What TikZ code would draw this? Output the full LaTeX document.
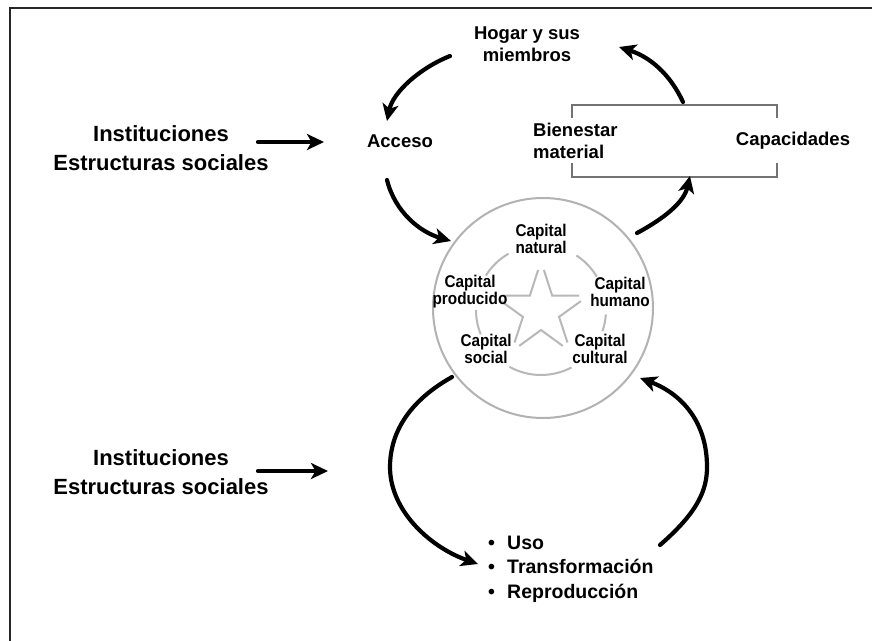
\documentclass[tikz,border=0pt]{standalone}
\usepackage{fontspec}
\setmainfont{Liberation Sans}
\newfontfamily\capfont[FakeStretch=0.9]{Liberation Sans}
\usetikzlibrary{arrows.meta,calc}
\begin{document}
\begin{tikzpicture}[x=1pt,y=-1pt,
  lbl/.style={font=\bfseries\fontsize{18.5}{22.5}\selectfont, align=center, inner sep=0pt},
  big/.style={font=\bfseries\fontsize{22}{29}\selectfont, align=center, inner sep=0pt},
  caplbl/.style={font=\capfont\bfseries\fontsize{17}{15}\selectfont, align=center, inner sep=0pt},
  listlbl/.style={font=\bfseries\fontsize{19.5}{24.5}\selectfont, align=left, inner sep=0pt},
  flow/.style={line width=4.2pt, line cap=round, -{Stealth[length=17pt,width=16pt,inset=4.5pt]}},
  ringline/.style={draw=black!28, line width=2pt},
  starline/.style={draw=black!28, line width=2pt},
  brk/.style={draw=black!55, line width=1.4pt},
  frameline/.style={draw=black!85, line width=1.6pt}]
\useasboundingbox (0,0) rectangle (872,640);
\fill[white] (0,0) rectangle (872,640);
\draw[frameline] (10,641) -- (10,8) -- (873,8);

% nodes
\node[lbl] (hogar) at (527,44) {Hogar y sus\\miembros};
\node[lbl] (acceso) at (400,141) {Acceso};
\node[lbl, anchor=west, align=left] (bien) at (533,141) {Bienestar\\material};
\node[lbl] (capac) at (793,141) {Capacidades};
\node[big] (inst1) at (161,148) {Instituciones\\Estructuras sociales};
\node[big] (inst2) at (161,472) {Instituciones\\Estructuras sociales};
\node[listlbl, anchor=west] (lista) at (488,569) {\makebox[19pt][l]{•}Uso\\\makebox[19pt][l]{•}Transformación\\\makebox[19pt][l]{•}Reproducción};

% capital circle
\node[circle, draw=black!30, line width=2pt, minimum size=220pt, inner sep=0pt] (cap) at (543,308) {};
\coordinate (C) at (541,310);
\foreach \a/\b in {-148/-120, -57/-31, 158/180, 4/19, 62/119}
  \draw[ringline] (C) ++(\a:65) arc[start angle=\a, end angle=\b, radius=65];
\coordinate (S) at (541,311);
\foreach \k in {0,...,4} {
  \path (S) +({-54+72*\k}:19) coordinate (si)
            +({-90+72*\k}:50) coordinate (so1)
            +({-18+72*\k}:50) coordinate (so2);
  \draw[starline] ($(si)!0.74!(so1)$) -- (si) -- ($(si)!0.74!(so2)$);
}
\node[caplbl] (cnat) at (541,239) {Capital\\natural};
\node[caplbl] (cprod) at (470,292) {Capital\\producido};
\node[caplbl] (chum) at (620,292) {Capital\\humano};
\node[caplbl] (csoc) at (486,349) {Capital\\social};
\node[caplbl] (ccul) at (600,349) {Capital\\cultural};

% bracket around Bienestar / Capacidades
\draw[brk] (572,118) -- (572,105) -- (777,105) -- (777,118);
\draw[brk] (572,163) -- (572,177) -- (777,177) -- (777,163);

% arrow end coordinates
\coordinate (a1s) at (450,56);  \coordinate (a1e) at (387,121);
\coordinate (a2s) at (387,180); \coordinate (a2e) at (451,241);
\coordinate (a3s) at (637,233); \coordinate (a3e) at (690,176);
\coordinate (a4s) at (683,102); \coordinate (a4e) at (619,47);
\coordinate (a5s) at (452,377); \coordinate (a5e) at (478,564);
\coordinate (a6s) at (660,545); \coordinate (a6e) at (640,378);
\coordinate (i1s) at (258,142); \coordinate (i1e) at (324,142);
\coordinate (i2s) at (258,471); \coordinate (i2e) at (328,471);

\draw[flow] (a1s) .. controls (420,68) and (393,92) .. (a1e);
\draw[flow] (a2s) .. controls (395,212) and (420,232) .. (a2e);
\draw[flow] (a3s) .. controls (665,218) and (684,202) .. (a3e);
\draw[flow] (a4s) .. controls (670,74) and (650,57) .. (a4e);
\draw[flow] (a5s) .. controls (402,405) and (390,440) .. (390,467)
                  .. controls (390,512) and (432,548) .. (a5e);
\draw[flow] (a6s) .. controls (698,512) and (707,490) .. (707,467)
                  .. controls (707,422) and (682,394) .. (a6e);
\draw[flow] (i1s) -- (i1e);
\draw[flow] (i2s) -- (i2e);
\end{tikzpicture}
\end{document}
